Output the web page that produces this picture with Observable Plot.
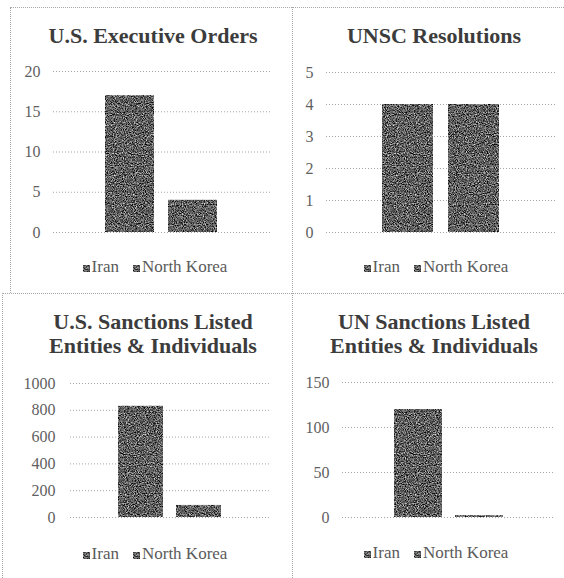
<!DOCTYPE html>
<html>
<head>
<meta charset="utf-8">
<script src="https://cdn.jsdelivr.net/npm/d3@7"></script>
<script src="https://cdn.jsdelivr.net/npm/@observablehq/plot@0.6"></script>
<style>
  html, body { margin: 0; padding: 0; background: #fff; }
  #root { position: relative; width: 564px; height: 578px; overflow: hidden; background: #fff; font-family: "Liberation Serif", "DejaVu Serif", Tinos, "Times New Roman", Times, serif; }
  .hline { position: absolute; height: 0; border-top: 1px dotted #a8a8a8; }
  .vline { position: absolute; width: 0; border-left: 1px dotted #a8a8a8; }
  .title { position: absolute; width: 280px; text-align: center; font-size: 22px; line-height: 24px; font-weight: bold; color: #3c3c3c; white-space: pre; }
  .legend { position: absolute; width: 280px; display: flex; justify-content: center; align-items: baseline; font-size: 17px; line-height: 20px; color: #5a5a5a; }
  .legend .item { display: inline-flex; align-items: baseline; margin: 0 7px; }
  .legend svg { margin-right: 2px; }
  .chart { position: absolute; }
</style>
</head>
<body>
<svg width="0" height="0" style="position:absolute">
  <defs>
    <filter id="noiseF" x="0" y="0" width="1" height="1" filterUnits="objectBoundingBox" color-interpolation-filters="sRGB">
      <feTurbulence type="fractalNoise" baseFrequency="0.9" numOctaves="2" seed="7" stitchTiles="stitch" result="t"/>
      <feColorMatrix in="t" type="matrix" values="1 0 0 0 0  1 0 0 0 0  1 0 0 0 0  0 0 0 0 1"/>
      <feComponentTransfer>
        <feFuncR type="linear" slope="1.5" intercept="-0.38"/>
        <feFuncG type="linear" slope="1.5" intercept="-0.38"/>
        <feFuncB type="linear" slope="1.5" intercept="-0.38"/>
      </feComponentTransfer>
    </filter>
    <pattern id="grain" patternUnits="userSpaceOnUse" width="120" height="120">
      <rect width="120" height="120" fill="#555" filter="url(#noiseF)"/>
    </pattern>
  </defs>
</svg>
<div id="root"></div>
<script>
// ---- data ----
const series = ["Iran", "North Korea"];
const titles = [
  "U.S. Executive Orders",
  "UNSC Resolutions",
  "U.S. Sanctions Listed\nEntities & Individuals",
  "UN Sanctions Listed\nEntities & Individuals"
];
const execOrders = [17, 4];
const unscResolutions = [4, 4];
const usSanctions = [830, 90];
const unSanctions = [120, 2];
const ticksExec = [0, 5, 10, 15, 20];
const ticksUnsc = [0, 1, 2, 3, 4, 5];
const ticksUs = [0, 200, 400, 600, 800, 1000];
const ticksUn = [0, 50, 100, 150];

const serifStack = "'Liberation Serif', 'DejaVu Serif', Tinos, 'Times New Roman', Times, serif";

// ---- layout ----
const root = document.getElementById("root");
function line(cls, css) {
  const d = document.createElement("div");
  d.className = cls;
  Object.assign(d.style, css);
  root.appendChild(d);
}
line("hline", {left: "10px", top: "7px", width: "554px"});
line("vline", {left: "10px", top: "7px", height: "286px"});
line("vline", {left: "292px", top: "7px", height: "571px"});
line("hline", {left: "2px", top: "293px", width: "562px"});
line("vline", {left: "2px", top: "293px", height: "285px"});

const panels = [
  {values: execOrders, ticks: ticksExec, title: titles[0], cx: 153, titleTop: 24, legendTop: 257,
   left: 10, top: 60, width: 272, height: 190, mL: 43, mR: 12, mT: 11, mB: 18, pad: 13},
  {values: unscResolutions, ticks: ticksUnsc, title: titles[1], cx: 434, titleTop: 24, legendTop: 257,
   left: 292, top: 60, width: 272, height: 190, mL: 34, mR: 9, mT: 12, mB: 18, pad: 13},
  {values: usSanctions, ticks: ticksUs, title: titles[2], cx: 153, titleTop: 310, legendTop: 544,
   left: 2, top: 360, width: 280, height: 180, mL: 68, mR: 12, mT: 23, mB: 23, pad: 15},
  {values: unSanctions, ticks: ticksUn, title: titles[3], cx: 434, titleTop: 310, legendTop: 543,
   left: 292, top: 360, width: 272, height: 180, mL: 50, mR: 9, mT: 22, mB: 23, pad: 13}
];

for (const p of panels) {
  const data = series.map((s, i) => ({series: s, value: p.values[i]}));
  const chart = Plot.plot({
    width: p.width,
    height: p.height,
    marginLeft: p.mL,
    marginRight: p.mR,
    marginTop: p.mT,
    marginBottom: p.mB,
    style: {fontFamily: serifStack, fontSize: "16px", color: "#5f5f5f", background: "transparent", overflow: "visible"},
    x: {domain: series, paddingInner: 0.22, paddingOuter: 0.83, axis: null},
    y: {domain: [p.ticks[0], p.ticks[p.ticks.length - 1]], ticks: p.ticks, tickSize: 0, tickPadding: p.pad, label: null, tickFormat: d => String(d)},
    marks: [
      Plot.ruleY(p.ticks, {stroke: "#a5a5a5", strokeDasharray: "1,2", strokeWidth: 1}),
      Plot.barY(data, {x: "series", y: "value", fill: "url(#grain)"})
    ]
  });
  chart.classList.add("chart");
  chart.style.left = p.left + "px";
  chart.style.top = p.top + "px";
  chart.style.position = "absolute";
  chart.style.fontFamily = serifStack;
  root.appendChild(chart);

  const t = document.createElement("div");
  t.className = "title";
  t.textContent = p.title;
  t.style.left = (p.cx - 140) + "px";
  t.style.top = p.titleTop + "px";
  root.appendChild(t);

  const lg = document.createElement("div");
  lg.className = "legend";
  lg.style.left = (p.cx + 2 - 140) + "px";
  lg.style.top = p.legendTop + "px";
  for (const s of series) {
    const it = document.createElement("span");
    it.className = "item";
    it.innerHTML = `<svg width="7" height="7"><rect width="7" height="7" fill="url(#grain)"/></svg><span>${s}</span>`;
    lg.appendChild(it);
  }
  root.appendChild(lg);
}
</script>
</body>
</html>
